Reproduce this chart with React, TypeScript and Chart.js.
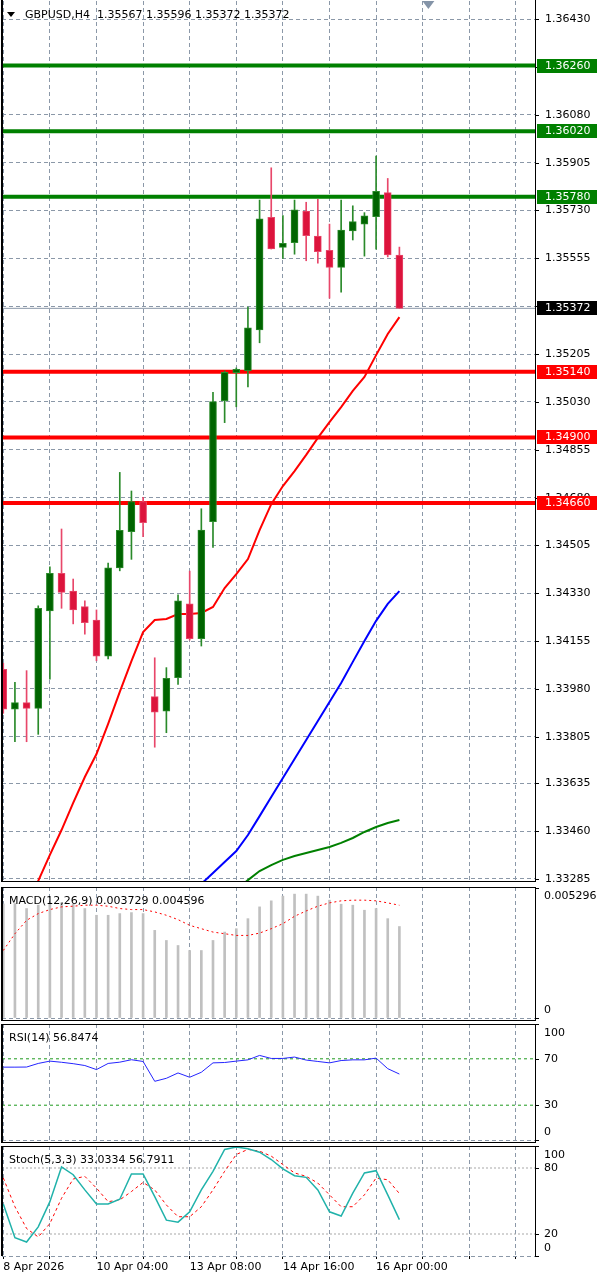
import { useEffect, useRef } from "react";
import { Chart, registerables } from "chart.js";

Chart.register(...registerables);

const FONT_FAMILY = '"DejaVu Sans", "Liberation Sans", sans-serif';
const GRID_COLOR = "#8b98a8";
const GRID_DASH = [4, 3];

// ---------------- data ----------------
const symbolTitle = "GBPUSD,H4";

const opens = [1.34052, 1.33906, 1.3393, 1.33909, 1.34265, 1.34403, 1.34338, 1.34281, 1.34232, 1.341, 1.34423, 1.34555, 1.34665, 1.33952, 1.33899, 1.34021, 1.34291, 1.34164, 1.34592, 1.35034, 1.35137, 1.35144, 1.35293, 1.35705, 1.35595, 1.35612, 1.35728, 1.35636, 1.35584, 1.35522, 1.35655, 1.3568, 1.35707, 1.35795, 1.35567];
const highs = [1.34074, 1.34004, 1.34047, 1.34284, 1.34427, 1.34565, 1.34382, 1.34302, 1.34269, 1.3444, 1.34772, 1.34704, 1.34681, 1.34094, 1.34058, 1.34324, 1.34411, 1.34639, 1.35065, 1.35143, 1.35154, 1.35377, 1.35768, 1.35886, 1.35711, 1.35768, 1.3576, 1.35771, 1.3568, 1.35768, 1.35747, 1.35722, 1.35929, 1.35847, 1.35596];
const lows = [1.33891, 1.33787, 1.33787, 1.33814, 1.34016, 1.34275, 1.34218, 1.3418, 1.34083, 1.3409, 1.34412, 1.34454, 1.34537, 1.33767, 1.3382, 1.33997, 1.34159, 1.34137, 1.34498, 1.34954, 1.35012, 1.35085, 1.35246, 1.35589, 1.35555, 1.3557, 1.35546, 1.35537, 1.35409, 1.35431, 1.35622, 1.35563, 1.35588, 1.3556, 1.35372];
const closes = [1.33906, 1.3393, 1.33909, 1.34275, 1.34403, 1.34333, 1.34269, 1.34222, 1.341, 1.34423, 1.3456, 1.34665, 1.34588, 1.33895, 1.34019, 1.34302, 1.34164, 1.34561, 1.35031, 1.35138, 1.35149, 1.35301, 1.35699, 1.35589, 1.3561, 1.35732, 1.35638, 1.35579, 1.35522, 1.35658, 1.35689, 1.3571, 1.358, 1.35567, 1.35372];

const maRed = [1.32989, 1.33084, 1.33183, 1.33278, 1.33373, 1.33464, 1.33563, 1.33658, 1.33742, 1.33852, 1.33969, 1.34082, 1.34188, 1.34232, 1.34236, 1.34254, 1.34254, 1.34258, 1.3428, 1.34349, 1.344, 1.34455, 1.34561, 1.34656, 1.34722, 1.34777, 1.34836, 1.34898, 1.34956, 1.35011, 1.3507, 1.35121, 1.35201, 1.35278, 1.3534];
const maBlue = [null, null, null, null, null, null, null, null, null, null, null, null, null, null, 1.33135, 1.33179, 1.33223, 1.33267, 1.33307, 1.33347, 1.33387, 1.33446, 1.33515, 1.33585, 1.33654, 1.33724, 1.33793, 1.33863, 1.33932, 1.34002, 1.34079, 1.34155, 1.34229, 1.34291, 1.34338];
const maGreen = [null, null, null, null, null, null, null, null, null, null, null, null, null, null, null, null, null, null, 1.3319, 1.33216, 1.33245, 1.33281, 1.33314, 1.33336, 1.33355, 1.33369, 1.3338, 1.33391, 1.33402, 1.33417, 1.33435, 1.33457, 1.33475, 1.3349, 1.33501];

const resistanceLevels = [1.3626, 1.3602, 1.3578];
const supportLevels = [1.3514, 1.349, 1.3466];
const lastPrice = 1.35372;

const priceTicks = [1.3643, 1.36255, 1.3608, 1.35905, 1.3573, 1.35555, 1.3538, 1.35205, 1.3503, 1.34855, 1.3468, 1.34505, 1.3433, 1.34155, 1.3398, 1.33805, 1.33635, 1.3346, 1.33285];

const gridBars = [0, 4, 8, 12, 16, 20, 24, 28, 32, 36, 40, 44];
const timeTickBars = [0, 8, 16, 24, 32];
const timeTickLabels = ["8 Apr 2026", "10 Apr 04:00", "13 Apr 08:00", "14 Apr 16:00", "16 Apr 00:00"];

const macdHist = [0.00465, 0.004667, 0.004462, 0.004598, 0.004693, 0.004693, 0.004639, 0.004462, 0.004188, 0.004188, 0.004256, 0.004297, 0.004256, 0.003572, 0.003161, 0.002956, 0.002751, 0.002751, 0.003161, 0.003503, 0.00364, 0.00405, 0.00453, 0.004776, 0.004968, 0.00505, 0.00505, 0.004968, 0.004803, 0.004639, 0.004598, 0.004393, 0.004462, 0.00405, 0.003729];
const macdSignal = [0.002751, 0.003435, 0.003982, 0.004256, 0.00442, 0.00453, 0.004557, 0.004598, 0.004598, 0.004557, 0.004462, 0.00442, 0.00442, 0.004324, 0.004188, 0.00401, 0.003777, 0.00364, 0.003503, 0.003435, 0.003366, 0.003366, 0.003462, 0.00364, 0.003845, 0.004146, 0.004365, 0.004557, 0.004693, 0.004776, 0.004803, 0.004803, 0.004776, 0.004693, 0.004596];
const macdAxisValues = [0.005296, 0];
const macdAxisLabels = ["0.005296", "0"];

const rsiValues = [62.8, 62.8, 62.9, 66.0, 68.0, 67.0, 65.8, 64.2, 60.7, 66.0, 67.1, 69.2, 67.7, 50.6, 53.2, 57.8, 54.1, 58.4, 66.5, 66.8, 68.0, 69.1, 72.9, 70.3, 70.3, 71.5, 68.9, 67.7, 66.5, 68.5, 69.1, 69.1, 70.6, 61.5, 56.8474];
const rsiLevels = [70, 30];
const rsiAxisValues = [100, 70, 30, 0];
const rsiAxisLabels = ["100", "70", "30", "0"];

const stochK = [47.3, 16.7, 12.7, 26.5, 49.4, 81.0, 73.9, 60.1, 47.3, 47.3, 51.6, 74.6, 74.6, 54.0, 32.6, 30.8, 40.2, 60.1, 77.0, 96.9, 99.0, 97.5, 94.4, 87.7, 79.2, 73.0, 71.5, 60.1, 40.2, 36.3, 57.1, 75.5, 77.6, 55.6, 33.0334];
const stochD = [70.9, 44.8, 25.0, 17.3, 29.5, 52.5, 70.0, 72.4, 61.7, 49.4, 51.0, 58.6, 66.9, 60.1, 46.4, 35.7, 35.7, 44.8, 60.1, 77.0, 92.3, 96.9, 95.3, 90.8, 83.1, 75.5, 72.4, 66.3, 55.6, 44.8, 44.8, 55.6, 70.9, 69.3, 56.7911];
const stochLevels = [80, 20];
const stochAxisValues = [100, 80, 20, 0];
const stochAxisLabels = ["100", "80", "20", "0"];

// ---------------- view ranges ----------------
const X_MIN = -0.11;
const X_MAX = 45.64;
const PRICE_MIN = 1.33274;
const PRICE_MAX = 1.36496;

const C_UP_BODY = "#006400";
const C_UP_EDGE = "#2a8a2a";
const C_DN_BODY = "#dc143c";
const C_DN_EDGE = "#e8476a";
const C_LEVEL_UP = "#008000";
const C_LEVEL_DN = "#ff0000";

const bars = closes.map((_, i) => i);
const isUp = (i: number) => closes[i] >= opens[i];
const pts = (arr: (number | null)[]) => arr.map((v, i) => ({ x: i, y: v }));
const hline = (v: number) => [
  { x: X_MIN, y: v },
  { x: X_MAX, y: v },
];

function xScale(showLabels: boolean) {
  return {
    type: "linear",
    min: X_MIN,
    max: X_MAX,
    offset: false,
    afterBuildTicks: (s: any) => {
      s.ticks = gridBars.map((v) => ({ value: v }));
    },
    grid: {
      color: GRID_COLOR,
      lineWidth: 1,
      offset: false,
      drawTicks: showLabels,
      tickLength: 3,
      tickColor: "#000",
      tickBorderDash: [],
    },
    border: { display: false, dash: GRID_DASH },
    ticks: showLabels
      ? {
          display: true,
          autoSkip: false,
          maxRotation: 0,
          minRotation: 0,
          align: "start",
          padding: 2,
          color: "#000",
          font: { family: FONT_FAMILY, size: 11 },
          callback: (v: number) => {
            const k = timeTickBars.indexOf(v);
            return k >= 0 ? timeTickLabels[k] : "";
          },
        }
      : { display: false },
    afterFit: (s: any) => {
      s.height = showLabels ? 22 : 0;
    },
  };
}

function yScale(min: number, max: number, gridValues: number[]) {
  return {
    type: "linear",
    position: "right",
    min,
    max,
    afterBuildTicks: (s: any) => {
      s.ticks = gridValues.map((v) => ({ value: v }));
    },
    grid: { color: GRID_COLOR, lineWidth: 1, drawTicks: false },
    border: { display: false, dash: GRID_DASH },
    ticks: { display: false },
    afterFit: (s: any) => {
      s.width = 65;
    },
  };
}

const baseOptions = (padding: any) => ({
  animation: false,
  responsive: false,
  maintainAspectRatio: false,
  events: [],
  layout: { padding },
  plugins: { legend: { display: false }, tooltip: { enabled: false } },
});

const mainOverlay = {
  id: "mainOverlay",
  afterDraw(chart: any) {
    const { ctx, chartArea: a } = chart;
    const ys = chart.scales.y;
    ctx.save();
    ctx.fillStyle = "#000";
    ctx.fillRect(1, 0, 2, a.bottom);
    ctx.fillRect(a.right, 0, 1, a.bottom);
    ctx.fillRect(a.left, a.bottom - 1, a.right - a.left, 1);
    ctx.font = `11px ${FONT_FAMILY}`;
    ctx.textBaseline = "middle";
    ctx.textAlign = "left";
    priceTicks.forEach((v) => {
      const py = Math.round(ys.getPixelForValue(v));
      ctx.fillStyle = "#000";
      ctx.fillRect(a.right, py, 4, 1);
      ctx.fillText(v.toFixed(5), a.right + 10, py);
    });
    const box = (v: number, bg: string) => {
      const py = Math.round(ys.getPixelForValue(v));
      ctx.fillStyle = bg;
      ctx.fillRect(a.right + 2, py - 7, 60, 14);
      ctx.fillStyle = "#fff";
      ctx.fillText(v.toFixed(5), a.right + 10, py);
    };
    resistanceLevels.forEach((v) => box(v, C_LEVEL_UP));
    supportLevels.forEach((v) => box(v, C_LEVEL_DN));
    box(lastPrice, "#000");
    // header
    const last = closes.length - 1;
    ctx.fillStyle = "#000";
    ctx.beginPath();
    ctx.moveTo(7, 12);
    ctx.lineTo(15, 12);
    ctx.lineTo(11, 17);
    ctx.closePath();
    ctx.fill();
    ctx.fillText(
      `${symbolTitle}  ${[opens[last], highs[last], lows[last], closes[last]].map((v) => v.toFixed(5)).join(" ")}`,
      25,
      15
    );
    // chart shift marker
    const mx = a.left + (a.right - a.left) * 0.8;
    ctx.fillStyle = "#8494a8";
    ctx.beginPath();
    ctx.moveTo(mx - 6, a.top);
    ctx.lineTo(mx + 6, a.top);
    ctx.lineTo(mx, a.top + 8);
    ctx.closePath();
    ctx.fill();
    ctx.restore();
  },
};

function panelOverlay(title: string, axisValues: number[], axisLabels: string[], bottomLine: boolean) {
  return {
    id: "panelOverlay",
    afterDraw(chart: any) {
      const { ctx, chartArea: a } = chart;
      const ys = chart.scales.y;
      const h = a.bottom - a.top + (bottomLine ? 3 : 0);
      ctx.save();
      ctx.fillStyle = "#000";
      ctx.fillRect(1, a.top, 2, h);
      ctx.fillRect(a.left, a.top, a.right - a.left + 1, 1);
      ctx.fillRect(a.right, a.top, 1, h);
      if (bottomLine) ctx.fillRect(1, a.bottom + 2, a.right, 1);
      ctx.font = `11px ${FONT_FAMILY}`;
      ctx.textBaseline = "middle";
      ctx.textAlign = "left";
      ctx.fillText(title, 9, a.top + 14);
      axisValues.forEach((v, k) => {
        const py = ys.getPixelForValue(v);
        ctx.fillRect(a.right, Math.round(py), 4, 1);
        const ly = Math.min(Math.max(py, a.top + 9), a.bottom - 8);
        ctx.fillText(axisLabels[k], a.right + 9, ly);
      });
      ctx.restore();
    },
  };
}

function lineDs(data: any[], color: string, width: number, order: number, dash: number[] = []) {
  return {
    type: "line",
    data,
    borderColor: color,
    borderWidth: width,
    borderDash: dash,
    pointRadius: 0,
    tension: 0,
    fill: false,
    order,
  };
}

function mainConfig(): any {
  const levelSets = [
    ...resistanceLevels.map((v) => lineDs(hline(v), C_LEVEL_UP, 4, 6)),
    ...supportLevels.map((v) => lineDs(hline(v), C_LEVEL_DN, 4, 6)),
  ];
  return {
    type: "line",
    data: {
      datasets: [
        {
          type: "bar",
          data: bars.map((i) => ({ x: i, y: [Math.min(opens[i], closes[i]), Math.max(opens[i], closes[i])] })),
          backgroundColor: bars.map((i) => (isUp(i) ? C_UP_BODY : C_DN_BODY)),
          borderColor: bars.map((i) => (isUp(i) ? C_UP_EDGE : C_DN_EDGE)),
          borderWidth: 1,
          borderSkipped: false,
          barThickness: 7,
          minBarLength: 2,
          grouped: false,
          order: 0,
        },
        {
          type: "bar",
          data: bars.map((i) => ({ x: i, y: [lows[i], highs[i]] })),
          backgroundColor: bars.map((i) => (isUp(i) ? C_UP_EDGE : C_DN_EDGE)),
          borderWidth: 0,
          barThickness: 1,
          grouped: false,
          order: 1,
        },
        lineDs(pts(maRed), "#ff0000", 2, 2),
        lineDs(pts(maBlue), "#0000ff", 2, 2),
        lineDs(pts(maGreen), "#008000", 2, 2),
        lineDs(hline(lastPrice), "#8a97a8", 1, 5),
        ...levelSets,
      ],
    },
    options: {
      ...baseOptions({ left: 2, top: 1, right: 0, bottom: 2 }),
      scales: { x: xScale(false), y: yScale(PRICE_MIN, PRICE_MAX, priceTicks) },
    },
    plugins: [mainOverlay],
  };
}

function macdConfig(): any {
  const last = macdHist.length - 1;
  return {
    type: "line",
    data: {
      datasets: [
        lineDs(pts(macdSignal), "#ff0000", 1, 0, [2, 3]),
        {
          type: "bar",
          data: pts(macdHist),
          backgroundColor: "#c0c0c0",
          borderWidth: 0,
          barThickness: 2,
          grouped: false,
          order: 1,
        },
      ],
    },
    options: {
      ...baseOptions({ left: 2, top: 3, right: 0, bottom: 4 }),
      scales: { x: xScale(false), y: yScale(0, 0.00534, [0]) },
    },
    plugins: [
      panelOverlay(
        `MACD(12,26,9) ${macdHist[last].toFixed(6)} ${macdSignal[last].toFixed(6)}`,
        macdAxisValues,
        macdAxisLabels,
        true
      ),
    ],
  };
}

function rsiConfig(): any {
  const last = rsiValues.length - 1;
  return {
    type: "line",
    data: {
      datasets: [
        lineDs(pts(rsiValues), "#2424ff", 1, 0),
        ...rsiLevels.map((v) => lineDs(hline(v), "#1f9a1f", 1, 1, [3, 3])),
      ],
    },
    options: {
      ...baseOptions({ left: 2, top: 2, right: 0, bottom: 4 }),
      scales: { x: xScale(false), y: yScale(0, 100, [0]) },
    },
    plugins: [panelOverlay(`RSI(14) ${rsiValues[last].toFixed(4)}`, rsiAxisValues, rsiAxisLabels, true)],
  };
}

function stochConfig(): any {
  const last = stochK.length - 1;
  return {
    type: "line",
    data: {
      datasets: [
        lineDs(pts(stochK), "#20b2aa", 1.5, 0),
        lineDs(pts(stochD), "#ff0000", 1, 1, [3, 3]),
        ...stochLevels.map((v) => lineDs(hline(v), "#a8a8a8", 1, 2, [2, 2])),
      ],
    },
    options: {
      ...baseOptions({ left: 2, top: 2, right: 0, bottom: 0 }),
      scales: { x: xScale(true), y: yScale(0, 100, [0]) },
    },
    plugins: [
      panelOverlay(
        `Stoch(5,3,3) ${stochK[last].toFixed(4)} ${stochD[last].toFixed(4)}`,
        stochAxisValues,
        stochAxisLabels,
        false
      ),
    ],
  };
}

const panels = [
  { top: 0, height: 884, make: mainConfig },
  { top: 884, height: 138, make: macdConfig },
  { top: 1022, height: 122, make: rsiConfig },
  { top: 1144, height: 134, make: stochConfig },
];

export default function App() {
  const refs = [
    useRef<HTMLCanvasElement>(null),
    useRef<HTMLCanvasElement>(null),
    useRef<HTMLCanvasElement>(null),
    useRef<HTMLCanvasElement>(null),
  ];
  useEffect(() => {
    const charts = panels.map((p, k) => new Chart(refs[k].current as HTMLCanvasElement, p.make()));
    return () => charts.forEach((c) => c.destroy());
  }, []);
  return (
    <div
      style={{
        position: "absolute",
        left: 0,
        top: 0,
        width: 600,
        height: 1278,
        background: "#ffffff",
        overflow: "hidden",
      }}
    >
      {panels.map((p, k) => (
        <canvas
          key={k}
          ref={refs[k]}
          width={600}
          height={p.height}
          style={{ position: "absolute", left: 0, top: p.top, width: 600, height: p.height }}
        />
      ))}
    </div>
  );
}
